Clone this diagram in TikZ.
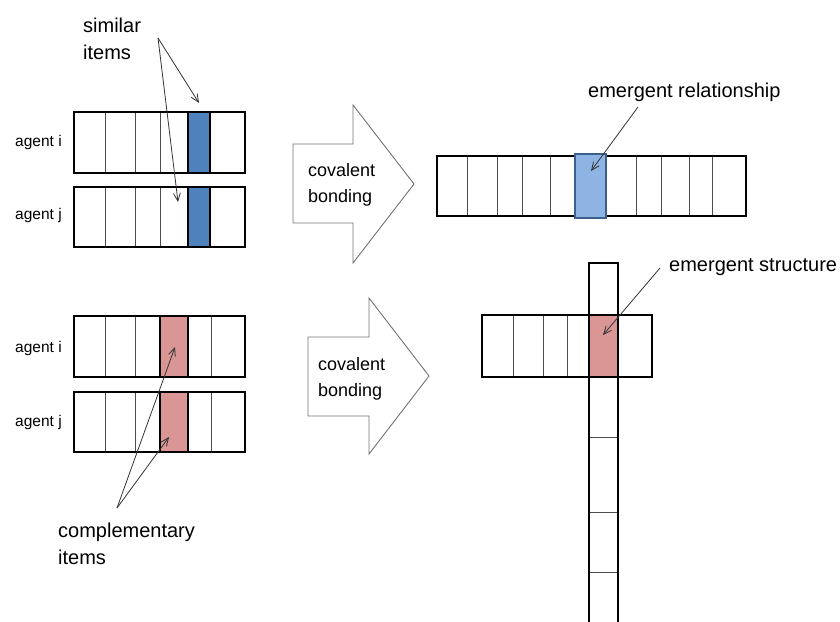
\documentclass[tikz,border=0pt]{standalone}
\usepackage{fontspec}
\setmainfont{Liberation Sans}
\usetikzlibrary{arrows.meta}
\definecolor{itemblue}{RGB}{79,129,189}
\definecolor{relblue}{RGB}{142,180,227}
\definecolor{relborder}{RGB}{60,95,140}
\definecolor{itemred}{RGB}{217,150,148}
\begin{document}
\begin{tikzpicture}[x=1pt,y=-1pt,
  outer/.style={draw=black,line width=2.4pt},
  divider/.style={draw=black!70,line width=0.9pt},
  hilite/.style={draw=black,line width=2.2pt},
  bigarrow/.style={draw=black!55,line width=0.9pt,fill=white},
  lbl/.style={inner sep=0pt,anchor=west,align=left,font=\fontsize{20}{27}\selectfont},
  agentlbl/.style={inner sep=0pt,anchor=west,font=\fontsize{15.5}{18}\selectfont},
  bondlbl/.style={inner sep=0pt,anchor=west,align=left,font=\fontsize{18}{26}\selectfont},
  callout/.style={draw=black!80,line width=0.8pt,-{Straight Barb[length=8pt,width=7pt]}},
]
\useasboundingbox (0,0) rectangle (840,621);
\begin{scope}
\clip (0,0) rectangle (840,621);

% ---------- top left: similar items ----------
\fill[itemblue] (188,112) rectangle (210,173);
\fill[itemblue] (188,187) rectangle (210,247);
\foreach \x in {105,135,160} {
  \draw[divider] (\x,112) -- (\x,173);
  \draw[divider] (\x,187) -- (\x,247);
}
\draw[hilite] (188,112) rectangle (210,173);
\draw[hilite] (188,187) rectangle (210,247);
\draw[outer] (74,112) rectangle (245,173);
\draw[outer] (74,187) rectangle (245,247);

\node[agentlbl] (ai1) at (15,142) {agent i};
\node[agentlbl] (aj1) at (15,215) {agent j};
\node[lbl] (simlbl) at (83,38.5) {similar\\items};
\coordinate (simsrc) at (158,38);
\coordinate (simtgt1) at (199,103);
\coordinate (simtgt2) at (178,202);
\draw[callout] (simsrc) -- (simtgt1);
\draw[callout] (simsrc) -- (simtgt2);

% ---------- bottom left: complementary items ----------
\fill[itemred] (160,316) rectangle (188,377);
\fill[itemred] (160,392) rectangle (188,452);
\foreach \x in {105,135,211} {
  \draw[divider] (\x,316) -- (\x,377);
  \draw[divider] (\x,392) -- (\x,452);
}
\draw[hilite] (160,316) rectangle (188,377);
\draw[hilite] (160,392) rectangle (188,452);
\draw[outer] (74,316) rectangle (245,377);
\draw[outer] (74,392) rectangle (245,452);

\node[agentlbl] (ai2) at (15,348) {agent i};
\node[agentlbl] (aj2) at (15,422) {agent j};
\node[lbl] (complbl) at (58,544) {complementary\\items};
\coordinate (compsrc) at (117,508);
\coordinate (comptgt1) at (175,347);
\coordinate (comptgt2) at (169,437);
\draw[callout] (compsrc) -- (comptgt1);
\draw[callout] (compsrc) -- (comptgt2);

% ---------- big arrows ----------
\draw[bigarrow] (293,144) -- (353,144) -- (353,105) -- (414,184) -- (353,263) -- (353,223) -- (293,223) -- cycle;
\node[bondlbl] (bond1) at (308,185) {covalent\\bonding};
\draw[bigarrow] (308,337) -- (369,337) -- (369,298) -- (429,376) -- (369,454) -- (369,416) -- (308,416) -- cycle;
\node[bondlbl] (bond2) at (318,378.5) {covalent\\bonding};

% ---------- top right: emergent relationship ----------
\foreach \x in {467,497,522,550,636,661,689,712} {
  \draw[divider] (\x,156) -- (\x,216);
}
\draw[outer] (437,156) rectangle (746,216);
\draw[fill=relblue,draw=relborder,line width=1.6pt] (575,154) rectangle (606,218);
\node[lbl] (rellbl) at (588,92) {emergent relationship};
\coordinate (relsrc) at (638,107);
\coordinate (reltgt) at (591,171);
\draw[callout] (relsrc) -- (reltgt);

% ---------- bottom right: emergent structure ----------
\fill[itemred] (589,315) rectangle (618,377);
\foreach \x in {513,543,567} {
  \draw[divider] (\x,315) -- (\x,377);
}
\foreach \y in {437,512,572} {
  \draw[divider] (589,\y) -- (618,\y);
}
\draw[outer] (482,315) rectangle (652,377);
\draw[outer] (589,640) -- (589,263) -- (618,263) -- (618,640);
\node[lbl] (strlbl) at (669,267) {emergent structure};
\coordinate (strsrc) at (660,268);
\coordinate (strtgt) at (603,335);
\draw[callout] (strsrc) -- (strtgt);
\end{scope}
\end{tikzpicture}
\end{document}
